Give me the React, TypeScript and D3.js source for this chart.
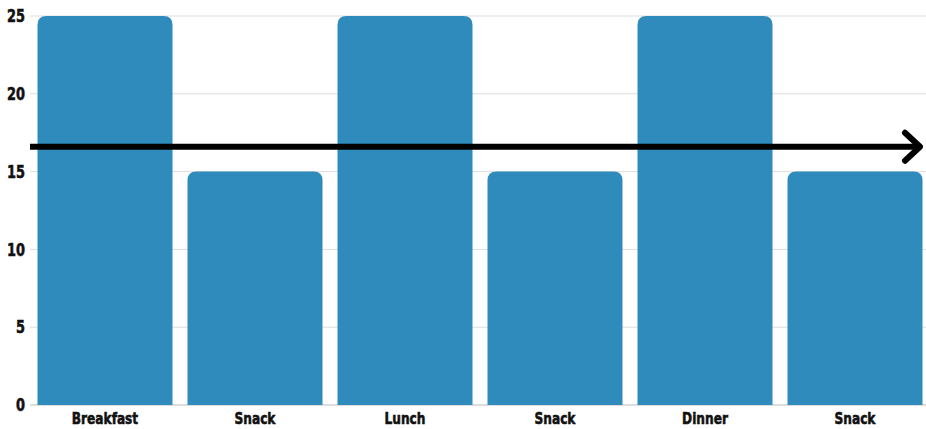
import * as d3 from 'd3';

const meals = ['Breakfast', 'Snack', 'Lunch', 'Snack', 'Dinner', 'Snack'];
const calories = [25, 15, 25, 15, 25, 15];
const yTicks = [0, 5, 10, 15, 20, 25];
const arrowValue = 16.6;

const width = 926;
const height = 429;
const margin = { top: 16, right: -4, bottom: 24, left: 30 };
const barColor = '#2e8bbb';
const font = '"DejaVu Sans", sans-serif';
const squeeze = 0.76; // fake a condensed heavy face

function roundTopBar(x: number, y: number, w: number, h: number, r: number) {
  const rr = Math.min(r, h, w / 2);
  return (
    `M${x},${y + h}` +
    `L${x},${y + rr}` +
    `Q${x},${y} ${x + rr},${y}` +
    `L${x + w - rr},${y}` +
    `Q${x + w},${y} ${x + w},${y + rr}` +
    `L${x + w},${y + h}Z`
  );
}

const App = () => {
  const x = d3
    .scaleBand<number>()
    .domain(meals.map((_, i) => i))
    .range([margin.left, width - margin.right])
    .paddingInner(0.1)
    .paddingOuter(0.05);
  const y = d3
    .scaleLinear()
    .domain([0, 25])
    .range([height - margin.bottom, margin.top]);

  const ay = y(arrowValue);
  const ax0 = margin.left;
  const ax1 = width - 6;

  return (
    <svg
      width={width}
      height={height}
      style={{ position: 'absolute', left: 0, top: 0, background: '#fff' }}
    >
      <g>
        {yTicks.map((t) => (
          <line
            key={'g' + t}
            x1={margin.left}
            x2={width}
            y1={y(t)}
            y2={y(t)}
            stroke={t === 0 ? '#bbb' : '#ddd'}
            strokeWidth={1}
          />
        ))}
        {yTicks.map((t) => (
          <g key={'t' + t} transform={`translate(25,${y(t)}) scale(${squeeze},1)`}>
            <text
              dy="0.36em"
              textAnchor="end"
              fontFamily={font}
              fontWeight="bold"
              fontSize={17}
              fill="#111"
              stroke="#111"
              strokeWidth={0.6}
            >
              {t}
            </text>
          </g>
        ))}
      </g>
      <g>
        {calories.map((v, i) => (
          <path
            key={'b' + i}
            d={roundTopBar(x(i)!, y(v), x.bandwidth(), y(0) - y(v), 9)}
            fill={barColor}
          />
        ))}
      </g>
      <g>
        {meals.map((m, i) => (
          <g
            key={'x' + i}
            transform={`translate(${x(i)! + x.bandwidth() / 2},418) scale(${squeeze},1)`}
          >
            <text
              dy="0.36em"
              textAnchor="middle"
              fontFamily={font}
              fontWeight="bold"
              fontSize={16}
              fill="#111"
              stroke="#111"
              strokeWidth={0.6}
            >
              {m}
            </text>
          </g>
        ))}
      </g>
      <g stroke="#000" strokeWidth={6} fill="none" strokeLinecap="round" strokeLinejoin="round">
        <line x1={ax0} x2={ax1} y1={ay} y2={ay} strokeLinecap="butt" />
        <polyline points={`${ax1 - 15},${ay - 14} ${ax1},${ay} ${ax1 - 15},${ay + 14}`} />
      </g>
    </svg>
  );
};

export default App;
